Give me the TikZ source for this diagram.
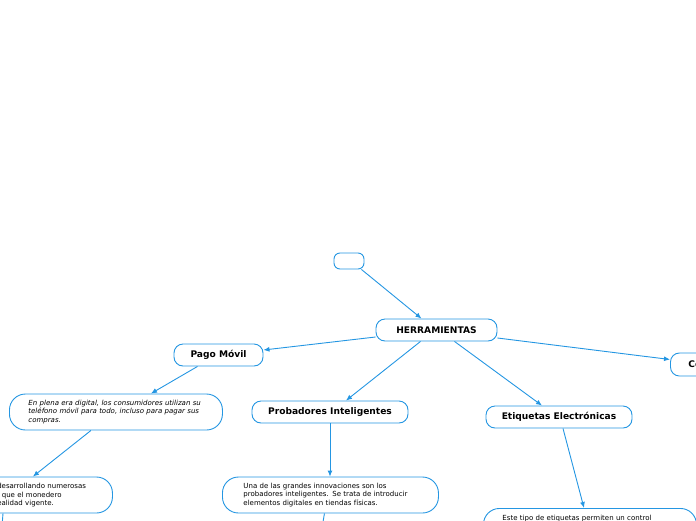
\documentclass[tikz,border=0pt]{standalone}
\usepackage{fontspec}
\setmainfont{DejaVu Sans}
\usetikzlibrary{positioning}
\usetikzlibrary{arrows.meta}
\definecolor{mapblue}{RGB}{36,150,226}
\tikzset{topic/.style={draw=mapblue, line width=0.9pt, rounded corners=9pt, fill=white,
  font=\fontsize{9.1}{10}\selectfont\bfseries, minimum height=22pt, inner xsep=12pt}}
\tikzset{note/.style={draw=mapblue, line width=0.9pt, rounded corners=16pt, fill=white,
  font=\fontsize{7}{8.6}\selectfont, align=left, minimum height=36pt, inner xsep=20pt}}
\tikzset{link/.style={-{Latex[length=6pt,width=5pt]}, draw=mapblue, line width=0.9pt}}

\begin{document}
\begin{tikzpicture}[x=1pt,y=-1pt]
\useasboundingbox (0,0) rectangle (696,520);
\clip (0,0) rectangle (696,520);
\node[topic, minimum width=30pt, minimum height=16pt, rounded corners=6pt, inner sep=0pt] (blank) at (349,261) {};
\node[topic, minimum width=121pt] (herr) at (436.5,330) {HERRAMIENTAS};
\node[topic, minimum width=89pt] (pago) at (218.5,355) {Pago Móvil};
\node[topic, minimum width=156pt] (prob) at (330,412) {Probadores Inteligentes};
\node[topic, minimum width=146pt] (etiq) at (559,417) {Etiquetas Electrónicas};
\node[topic, anchor=west, minimum height=23pt, inner xsep=18pt] (co) at (670,364.5) {Compras Online};
% notes
\node[note, anchor=west, text width=175pt, inner xsep=19pt, font=\fontsize{7}{8.6}\selectfont\itshape] (pagonote) at (9,412)
  {\mbox{En plena era digital, los consumidores utilizan su}\\\mbox{teléfono móvil para todo, incluso para pagar sus}\\compras.};
\node[note, anchor=west, text width=132pt, inner xsep=16pt] (movilnote) at (-52,495)
  {\mbox{Se están desarrollando numerosas}\\\mbox{apps para que el monedero}\\\mbox{sea una realidad vigente.}};
\node[note, anchor=west, text width=174pt, inner xsep=21pt] (probnote) at (222,495)
  {\mbox{Una de las grandes innovaciones son los}\\\mbox{probadores inteligentes. Se trata de introducir}\\\mbox{elementos digitales en tiendas físicas.}};
\node[note, anchor=north west, text width=175pt, inner xsep=19pt, inner ysep=6pt] (etiqnote) at (483,508)
  {\mbox{Este tipo de etiquetas permiten un control}\\\mbox{de precios en tiempo real desde un sistema}\\central de la tienda.};
% links
\draw[link] ([xshift=-3pt]blank.south east) -- ([xshift=-15pt]herr.north);
\draw[link] ([yshift=-7pt]herr.west) -- ([yshift=5pt]pago.east);
\draw[link] ([xshift=-16pt]herr.south) -- ([xshift=16pt]prob.north);
\draw[link] ([xshift=18pt]herr.south) -- ([xshift=-17pt]etiq.north);
\draw[link] ([yshift=-8pt]herr.east) -- ([yshift=5pt]co.west);
\draw[link] ([xshift=-21pt]pago.south) -- ([xshift=35pt]pagonote.north);
\draw[link] ([xshift=-25pt]pagonote.south) -- ([xshift=-80pt]movilnote.north east);
\draw[link] (prob.south) -- (prob.south |- probnote.north);
\draw[link] ([xshift=4pt]etiq.south) -- ([xshift=101pt]etiqnote.north west);
% continuations below the frame
\coordinate (movilout) at (1,540);
\coordinate (probout) at (320,540);
\draw[link] ([xshift=55pt]movilnote.south west) -- (movilout);
\draw[link] ([xshift=-6pt]probnote.south) -- (probout);
\end{tikzpicture}
\end{document}
